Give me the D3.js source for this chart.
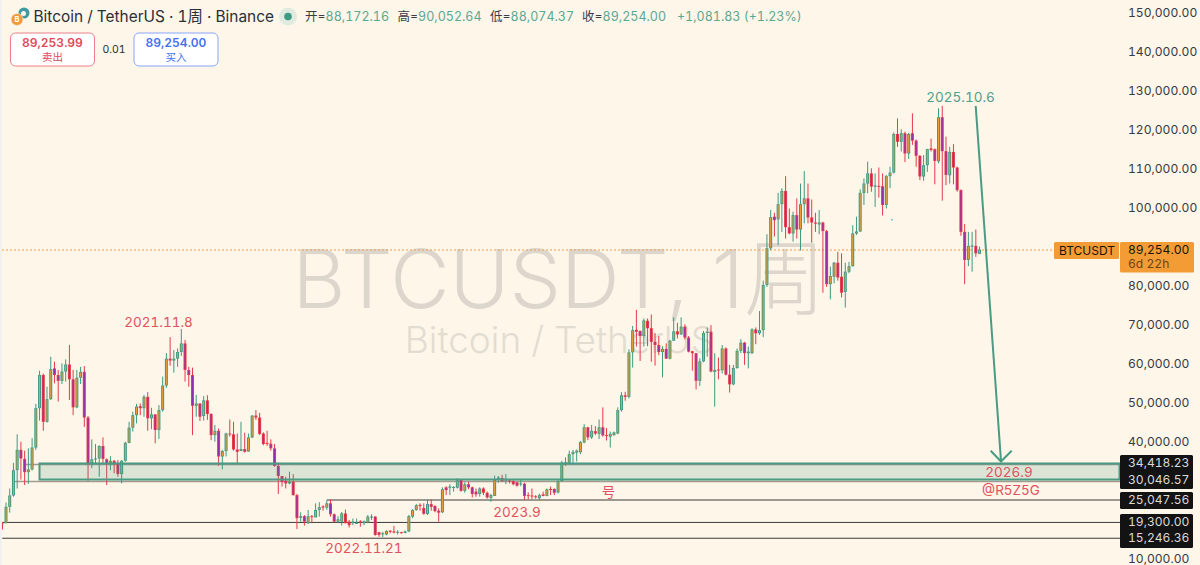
<!DOCTYPE html>
<html>
<head>
<meta charset="utf-8">
<script src="https://d3js.org/d3.v7.min.js"></script>
<style>
html, body { margin: 0; padding: 0; background: #fef6e9; overflow: hidden; }
text { font-family: Inter, "Noto Sans CJK SC", sans-serif; font-variant-numeric: tabular-nums; }
</style>
</head>
<body>
<div id="chart"></div>
<script>
///////////////////////////////////////////////////////////////////////////
///////////////////////////////// Data ////////////////////////////////////
///////////////////////////////////////////////////////////////////////////

//Weekly candles, in thousands of USDT
var opens = [
	19.3,19.1,23.3,26.2,32.7,37.9,35.6,32.2,32.9,38.5,
	48.6,57.1,45.1,50.9,58.8,57.1,55.6,58.0,59.8,56.0,
	48.8,56.4,57.9,46.2,34.4,35.5,35.7,38.9,35.5,34.6,
	35.1,34.4,31.7,35.1,39.7,43.6,46.8,49.1,48.6,51.5,
	46.0,47.0,43.0,48.1,54.4,61.3,60.8,61.3,63.0,65.2,
	58.4,57.1,49.2,49.8,46.6,50.6,47.1,41.7,42.8,36.2,
	37.6,42.1,41.9,38.0,37.6,38.1,37.5,41.1,46.7,46.2,
	42.1,39.7,39.5,38.3,33.8,31.2,30.0,29.3,29.7,26.3,
	20.5,20.9,19.1,20.9,20.6,22.5,23.4,23.1,24.2,21.4,
	19.5,19.5,21.6,19.5,19.1,19.1,19.6,19.1,19.3,20.6,
	20.8,16.8,16.3,16.2,17.2,17.0,16.7,16.8,16.6,17.0,
	20.8,22.5,23.8,23.0,21.5,24.0,23.5,22.3,21.9,28.3,
	28.2,28.2,28.2,30.2,27.4,29.1,28.3,27.2,26.6,28.0,
	26.9,25.6,26.1,30.5,30.7,30.0,30.1,29.9,29.6,29.1,
	29.2,26.3,26.2,26.0,25.5,26.5,26.1,27.9,27.9,27.0,
	29.9,34.4,34.6,36.8,37.2,37.3,39.8,43.7,41.1,42.7,
	42.0,43.7,41.7,41.3,41.7,42.1,48.1,51.9,51.5,62.9,
	68.7,68.4,67.1,71.0,69.1,65.6,64.8,63.0,63.8,61.3,
	65.9,68.3,67.5,69.5,66.7,63.2,62.7,55.6,60.6,67.9,
	68.2,57.9,58.5,58.3,63.9,57.2,54.7,58.9,63.3,65.4,
	62.7,62.7,68.8,67.8,68.6,80.2,89.6,97.7,97.0,100.9,
	104.3,95.0,93.4,98.1,94.4,100.9,102.4,97.5,96.2,95.7,
	96.2,94.0,80.4,82.3,85.9,82.3,78.4,83.6,85.0,93.4,
	93.9,103.8,106.2,108.8,105.4,105.6,105.5,100.7,108.1,109.0,
	118.9,116.9,119.1,113.9,119.1,117.2,113.3,108.0,110.9,115.2,
	115.0,111.9,123.2,114.5,108.3,114.3,110.3,104.5,93.8,86.6,
	90.0,90.2,88.172];
var highs = [
	19.3,24.4,28.0,34.6,41.9,40.0,37.7,38.3,40.9,49.7,
	58.2,57.5,54.1,61.8,60.5,58.4,60.1,61.1,64.8,58.4,
	58.4,59.2,59.4,46.6,40.6,39.4,39.1,41.1,35.7,36.3,
	35.3,35.3,35.3,40.0,45.1,47.7,49.7,49.8,52.0,52.7,
	48.7,47.1,49.4,56.7,62.7,66.8,63.5,63.9,68.9,66.1,
	59.2,59.0,52.0,49.8,51.7,51.9,47.3,44.3,43.4,37.9,
	42.3,45.7,45.1,42.1,45.1,42.3,42.1,46.8,48.1,47.4,
	42.4,42.8,40.6,39.4,34.3,31.2,31.0,32.3,31.7,26.6,
	21.9,21.2,22.5,21.2,24.2,24.5,23.7,25.0,25.2,21.6,
	20.9,22.0,22.6,19.9,20.3,20.3,19.9,19.8,21.2,21.4,
	20.9,16.9,16.9,17.3,17.3,18.4,17.3,16.9,17.2,21.2,
	22.7,24.0,24.2,24.2,25.2,25.2,23.7,22.9,28.3,28.6,
	29.1,28.6,30.6,30.3,29.6,29.7,28.5,28.0,28.3,28.3,
	27.2,26.6,31.3,31.2,31.5,31.7,30.4,30.4,29.7,30.4,
	29.5,27.0,28.0,26.3,26.7,27.2,28.0,28.5,28.0,30.3,
	35.1,36.0,37.7,37.9,38.0,40.2,44.5,43.8,44.3,44.0,
	45.7,48.8,43.5,42.6,42.6,48.8,52.7,52.8,63.7,69.7,
	73.8,68.5,71.6,71.6,72.6,67.8,67.1,64.5,65.2,66.1,
	71.9,70.5,71.9,70.1,67.1,63.3,62.7,61.4,68.4,69.3,
	69.9,62.7,61.6,64.8,64.2,59.7,59.7,63.9,66.3,65.6,
	64.4,69.1,69.3,73.5,81.3,93.2,99.4,98.7,103.8,105.0,
	108.1,99.8,99.0,102.4,106.2,109.4,106.2,102.1,98.7,99.4,
	96.4,94.3,84.9,86.1,88.7,88.3,85.9,86.1,95.5,97.7,
	104.7,107.5,111.8,110.1,108.8,110.3,108.8,108.4,110.5,119.3,
	122.9,120.1,119.5,119.2,124.2,117.5,113.5,113.5,115.1,117.7,
	115.2,125.5,126.1,118.2,115.6,116.3,110.5,104.7,95.8,93.8,
	93.8,94.4,90.052];
var lows = [
	17.5,19.1,21.8,25.9,28.0,30.3,28.9,29.2,32.6,37.9,
	45.4,42.8,44.9,50.7,55.0,50.3,54.8,55.4,50.7,46.8,
	48.6,54.8,43.8,30.0,33.2,34.3,31.0,34.4,28.9,32.7,
	31.9,31.0,29.3,34.9,39.6,42.6,44.7,46.8,46.4,42.8,
	43.2,39.6,40.7,47.7,53.8,59.5,57.7,59.2,62.0,55.4,
	54.1,41.7,46.4,45.3,45.4,45.6,40.4,40.0,33.8,32.9,
	36.2,41.3,37.7,34.3,37.6,37.2,37.4,40.9,45.6,41.7,
	39.1,38.9,37.7,33.6,26.6,28.5,28.0,29.1,26.2,17.6,
	19.5,18.5,18.9,19.1,20.6,20.8,22.3,22.5,20.8,19.3,
	19.2,18.5,19.1,18.0,18.6,18.9,18.2,18.6,19.1,19.9,
	15.9,15.6,15.5,16.0,16.5,16.5,16.2,16.4,16.5,16.8,
	20.4,22.3,22.3,21.3,21.2,22.3,21.9,19.5,21.7,26.3,
	26.3,27.2,28.0,27.2,26.9,27.8,25.7,25.9,25.9,26.3,
	25.4,24.6,26.1,29.5,29.7,29.1,29.3,28.8,28.5,28.6,
	25.0,25.2,25.3,25.4,25.0,26.0,26.0,26.3,26.3,26.7,
	29.7,33.8,34.4,34.6,34.9,36.8,39.6,40.4,40.7,41.7,
	40.7,41.3,40.3,38.5,41.5,41.9,47.7,50.5,51.1,59.0,
	64.4,60.7,64.4,64.5,60.5,59.5,62.2,56.5,61.2,61.1,
	65.9,66.5,67.4,66.2,62.9,58.2,53.4,54.3,60.4,61.8,
	57.8,49.0,56.0,57.5,57.0,52.6,54.5,58.7,62.7,59.7,
	58.8,62.5,65.0,67.4,66.8,79.7,89.1,92.6,90.4,93.8,
	92.1,93.2,91.3,92.1,89.0,96.0,96.0,91.0,93.8,93.2,
	78.2,79.7,76.5,80.6,81.3,77.0,74.4,83.2,84.9,93.0,
	93.8,100.7,103.7,104.1,100.2,102.6,98.0,99.8,105.0,108.8,
	115.6,114.4,111.7,112.5,116.1,110.5,107.1,106.9,109.2,114.4,
	106.0,111.4,101.8,105.8,106.2,106.0,104.1,92.8,80.4,85.0,
	83.6,87.4,88.074];
var closes = [
	19.0,23.3,26.2,32.7,37.9,35.7,32.2,32.9,38.5,48.6,
	57.1,45.1,50.9,58.6,57.1,55.6,58.0,59.8,56.0,48.8,
	56.4,57.9,46.2,34.4,35.5,35.7,38.9,35.6,34.4,35.1,
	34.3,31.7,35.1,39.7,43.6,46.8,49.0,48.6,51.5,46.0,
	47.0,43.0,48.1,54.4,61.3,60.8,61.3,63.0,65.2,58.4,
	57.1,49.2,49.8,46.4,50.6,47.1,41.7,42.8,36.2,37.6,
	42.1,41.9,38.0,37.4,38.1,37.4,41.1,46.7,46.2,42.0,
	39.4,39.4,38.3,33.8,31.2,29.7,29.3,29.7,26.3,20.4,
	20.9,19.5,20.9,20.8,22.5,23.2,23.1,24.2,21.4,19.5,
	20.1,21.6,19.1,18.6,19.5,19.2,19.3,19.6,20.8,20.8,
	16.1,16.1,16.5,17.1,16.9,16.7,16.9,16.7,17.0,20.9,
	22.5,23.7,23.5,21.5,24.0,23.3,22.2,21.8,27.8,27.6,
	28.5,28.4,30.1,27.4,29.1,28.3,26.6,26.5,28.0,26.9,
	25.7,26.3,30.2,30.8,29.9,30.4,29.9,29.1,28.7,29.3,
	26.1,26.1,26.0,25.8,26.3,26.1,27.8,27.6,26.9,29.9,
	34.6,34.7,36.8,37.4,37.7,39.9,43.7,41.1,42.8,42.1,
	43.7,41.6,41.6,42.0,42.4,48.1,51.9,51.5,62.9,68.6,
	68.2,67.1,71.1,69.1,65.6,64.8,63.0,63.8,61.3,65.9,
	68.3,67.5,69.5,66.7,63.1,62.7,55.6,60.6,67.9,68.2,
	58.0,58.4,58.3,63.9,57.2,54.7,58.9,63.3,65.4,62.7,
	63.1,68.8,67.8,68.6,80.2,89.6,97.6,96.8,100.9,104.3,
	95.0,93.4,98.1,94.4,100.9,102.4,97.5,96.2,95.9,96.2,
	94.0,80.4,82.5,85.9,82.1,78.2,83.6,85.0,93.4,93.9,
	103.8,106.2,108.8,105.4,105.7,105.5,100.7,108.1,109.0,118.9,
	116.9,119.1,113.9,118.9,117.2,113.3,108.0,110.9,115.0,114.8,
	112.0,123.2,114.5,108.4,114.3,110.3,104.5,93.8,86.6,90.2,
	90.3,88.3,89.254];

var axisTicks = [150,140,130,120,110,100,80,70,60,50,40,10];
var levelValues = [25.04756,19.3,15.24636];
var levelStarts = [87,0,0];	//first candle each level line is drawn from
var zoneValues = [34.41823,30.04657];
var lastPrice = 89.254;
var blackLabels = [34.41823,30.04657,25.04756,19.3,15.24636];

///////////////////////////////////////////////////////////////////////////
//////////////////////////////// Set-up ///////////////////////////////////
///////////////////////////////////////////////////////////////////////////

var width = 1200, height = 565;
var green = "#3e9a83", red = "#e53a4b", orange = "#f39c36", purple = "#8e2fb4",
	noteRed = "#e2515f", noteGreen = "#4f9f8a";

var svg = d3.select("#chart").append("svg")
	.attr("width", width)
	.attr("height", height)
	.style("display", "block");

var x = d3.scaleLinear().domain([0, 262]).range([2.25, 979.56]);
var y = d3.scaleLinear().domain([10, 150]).range([558.7, 12.7]);
var money = d3.format(",.2f");

svg.append("rect").attr("width", width).attr("height", height).attr("fill", "#fef6e9");
svg.append("rect").attr("width", 2).attr("height", height).attr("fill", "#f1f1f1");

var plot = svg.append("g");

///////////////////////////////////////////////////////////////////////////
////////////////////////////// Watermark //////////////////////////////////
///////////////////////////////////////////////////////////////////////////

plot.append("text")
	.attr("x", 559)
	.attr("y", 308)
	.attr("text-anchor", "middle")
	.attr("fill", "#ddd6cc")
	.style("font-size", "81.5px")
	.style("font-weight", 300)
	.style("font-variant-numeric", "normal")
	.text("BTCUSDT, 1周");
plot.append("text")
	.attr("x", 559.5)
	.attr("y", 353)
	.attr("text-anchor", "middle")
	.attr("fill", "#e3dcd1")
	.style("font-size", "37px")
	.style("font-weight", 300)
	.text("Bitcoin / TetherUS");

///////////////////////////////////////////////////////////////////////////
//////////////////////////// Horizontal lines /////////////////////////////
///////////////////////////////////////////////////////////////////////////

//Grey rays under the zone
plot.selectAll(".zoneRay")
	.data(zoneValues)
	.join("line")
	.attr("class", "zoneRay")
	.attr("x1", function(d, i) { return i === 0 ? 25 : 15; })
	.attr("x2", 1120)
	.attr("y1", function(d) { return y(d) + 1; })
	.attr("y2", function(d) { return y(d) + 1; })
	.style("stroke", "#a39a8d")
	.style("stroke-width", 1.6);

plot.selectAll(".level")
	.data(levelValues)
	.join("line")
	.attr("class", "level")
	.attr("x1", function(d, i) { return x(levelStarts[i]); })
	.attr("x2", 1120)
	.attr("y1", function(d) { return y(d); })
	.attr("y2", function(d) { return y(d); })
	.style("stroke", "#3a3a3a")
	.style("stroke-width", 1);

//Dotted line at the last price
plot.append("line")
	.attr("x1", 2)
	.attr("x2", 1054)
	.attr("y1", 250)
	.attr("y2", 250)
	.style("stroke", orange)
	.style("stroke-width", 1)
	.style("stroke-dasharray", "2 2");

///////////////////////////////////////////////////////////////////////////
/////////////////////////////// Candles ///////////////////////////////////
///////////////////////////////////////////////////////////////////////////

var candles = plot.selectAll(".candle")
	.data(d3.range(opens.length))
	.join("g")
	.attr("class", "candle");

candles.append("rect")
	.attr("x", function(i) { return Math.max(2, x(i) - 0.5); })
	.attr("width", 1)
	.attr("y", function(i) { return y(highs[i]); })
	.attr("height", function(i) { return y(lows[i]) - y(highs[i]); })
	.attr("fill", function(i) { return closes[i] >= opens[i] ? green : red; });
candles.append("rect")
	.attr("x", function(i) { return Math.max(2, x(i) - 1.5); })
	.attr("width", function(i) { return x(i) + 1.5 - Math.max(2, x(i) - 1.5); })
	.attr("y", function(i) { return y(Math.max(opens[i], closes[i])); })
	.attr("height", function(i) { return Math.max(1, Math.abs(y(opens[i]) - y(closes[i]))); })
	.attr("fill", function(i) { return closes[i] >= opens[i] ? green : red; });
candles.append("rect")
	.attr("x", function(i) { return x(i) - 0.5; })
	.attr("width", 1)
	.attr("y", function(i) { return y(Math.max(opens[i], closes[i])) + 0.7; })
	.attr("height", function(i) { return Math.max(0, Math.abs(y(opens[i]) - y(closes[i])) - 1.4); })
	.attr("fill", function(i) { return closes[i] >= opens[i] ? orange : purple; });

//Small stray dot from the drawing layer
plot.append("circle").attr("cx", x(238.5)).attr("cy", y(96.9)).attr("r", 1).attr("fill", "#74c6d6");

///////////////////////////////////////////////////////////////////////////
///////////////////////////////// Zone ////////////////////////////////////
///////////////////////////////////////////////////////////////////////////

plot.append("rect")
	.attr("x", 39.5)
	.attr("width", 1080)
	.attr("y", y(zoneValues[0]))
	.attr("height", y(zoneValues[1]) - y(zoneValues[0]) - 1)
	.attr("fill", "rgba(60,150,120,0.18)")
	.style("stroke", "#4a9a84")
	.style("stroke-width", 2);

///////////////////////////////////////////////////////////////////////////
///////////////////////////// Annotations /////////////////////////////////
///////////////////////////////////////////////////////////////////////////

var noteText = ["2021.11.8", "2022.11.21", "2023.9", "号", "2026.9", "@R5Z5G", "2025.10.6"];
var noteX = [158.5, 364, 517, 608.5, 1009, 1011, 960.5];
var noteY = [322, 548, 512, 492, 472, 490, 97];
var noteColor = [noteRed, noteRed, noteRed, noteRed, noteRed, noteRed, noteGreen];

plot.selectAll(".note")
	.data(noteText)
	.join("text")
	.attr("class", "note")
	.attr("x", function(d, i) { return noteX[i]; })
	.attr("y", function(d, i) { return noteY[i]; })
	.attr("dy", ".35em")
	.attr("text-anchor", "middle")
	.attr("fill", function(d, i) { return noteColor[i]; })
	.style("font-size", "13.5px")
	.text(function(d) { return d; });

//The arrow down to the zone
var arrow = plot.append("g")
	.style("stroke", "#4a9a84")
	.style("stroke-width", 2)
	.style("fill", "none");
arrow.append("line").attr("x1", 975.7).attr("y1", 106).attr("x2", 1001).attr("y2", 461);
arrow.append("path").attr("d", "M990.7,450.7L1001,461.5L1011.7,450.7");

///////////////////////////////////////////////////////////////////////////
///////////////////////////////// Axis ////////////////////////////////////
///////////////////////////////////////////////////////////////////////////

var axis = svg.append("g")
	.attr("transform", "translate(1120,0)")
	.call(d3.axisRight(y)
		.tickValues(axisTicks)
		.tickSize(0)
		.tickPadding(8)
		.tickFormat(function(d) { return money(d * 1000); }));
axis.select(".domain").remove();
axis.selectAll("text")
	.attr("fill", "#363a45")
	.attr("dy", ".3em")
	.style("font-family", "Inter")
	.style("font-size", "12.1px");

//Black price labels
var blackBoxes = [[455, 34], [492, 17], [514, 34]];
svg.selectAll(".blackBox")
	.data(blackBoxes)
	.join("rect")
	.attr("class", "blackBox")
	.attr("x", 1120)
	.attr("width", 73)
	.attr("y", function(d) { return d[0]; })
	.attr("height", function(d) { return d[1]; })
	.attr("rx", 1.5)
	.attr("fill", "#131313");
svg.selectAll(".blackLabel")
	.data(blackLabels)
	.join("text")
	.attr("class", "blackLabel")
	.attr("x", 1128)
	.attr("y", function(d) { return y(d) - 0.5; })
	.attr("dy", ".35em")
	.attr("fill", "#d9d9d9")
	.style("font-size", "12.1px")
	.text(function(d) { return money(d * 1000); });

//Last price labels
svg.append("rect").attr("x", 1054).attr("y", 242).attr("width", 65).attr("height", 17).attr("rx", 1.5).attr("fill", orange);
svg.append("rect").attr("x", 1120).attr("y", 242).attr("width", 74).attr("height", 30.5).attr("rx", 1.5).attr("fill", orange);
svg.append("text").attr("x", 1059).attr("y", 250.5).attr("dy", ".35em").attr("fill", "#1c1408").style("font-size", "12px")
	.text("BTCUSDT");
svg.append("text").attr("x", 1128).attr("y", 250).attr("dy", ".35em").attr("fill", "#1c1408").style("font-size", "12.1px")
	.text(money(lastPrice * 1000));
svg.append("text").attr("x", 1128).attr("y", 264).attr("dy", ".35em").attr("fill", "#6b4515").style("font-size", "12.1px")
	.text("6d 22h");

///////////////////////////////////////////////////////////////////////////
//////////////////////////////// Header ///////////////////////////////////
///////////////////////////////////////////////////////////////////////////

var header = svg.append("g");

//Symbol icon
header.append("circle").attr("cx", 24).attr("cy", 13).attr("r", 5.5).attr("fill", "#3e9aa3");
header.append("circle").attr("cx", 23.5).attr("cy", 13.5).attr("r", 2.5).attr("fill", "#fef6e9");
header.append("circle").attr("cx", 17).attr("cy", 19.5).attr("r", 6).attr("fill", "#f09a3a")
	.style("stroke", "#fef6e9").style("stroke-width", 0.6);
header.append("text").attr("x", 17).attr("y", 19.7).attr("dy", ".35em").attr("text-anchor", "middle")
	.attr("fill", "#fff").style("font-size", "7.5px").style("font-weight", 700).text("B");

header.append("text").attr("x", 33.5).attr("y", 17).attr("dy", ".35em").attr("fill", "#2a2e39")
	.style("font-size", "15.4px").text("Bitcoin / TetherUS · 1周 · Binance");

header.append("circle").attr("cx", 288).attr("cy", 16.5).attr("r", 9).attr("fill", "#e0eadf");
header.append("circle").attr("cx", 288).attr("cy", 16.5).attr("r", 3.8).attr("fill", "#3f9a84");

var ohlcLabels = ["开=", "高=", "低=", "收="];
var ohlcValues = ["88,172.16", "90,052.64", "88,074.37", "89,254.00"];
var ohlcX = [305, 397.5, 490, 582];

header.selectAll(".ohlc")
	.data(ohlcLabels)
	.join("text")
	.attr("class", "ohlc")
	.attr("x", function(d, i) { return ohlcX[i]; })
	.attr("y", 17)
	.attr("dy", ".35em")
	.style("font-size", "12.5px")
	.each(function(d, i) {
		d3.select(this).append("tspan").attr("fill", "#3a3d46").text(d);
		d3.select(this).append("tspan").attr("fill", "#5aa892").text(ohlcValues[i]);
	});
header.append("text").attr("x", 677).attr("y", 17).attr("dy", ".35em").attr("fill", "#5aa892")
	.style("font-size", "12.5px").text("+1,081.83 (+1.23%)");

//Sell and buy buttons
var buttonX = [10.5, 134];
var buttonPrice = ["89,253.99", "89,254.00"];
var buttonWord = ["卖出", "买入"];
var buttonStroke = ["#ec7f88", "#89a6fb"];
var buttonText = ["#e2485a", "#4470f0"];

var buttons = header.selectAll(".button")
	.data(buttonPrice)
	.join("g")
	.attr("class", "button");
buttons.append("rect")
	.attr("x", function(d, i) { return buttonX[i]; })
	.attr("y", 33)
	.attr("width", 84)
	.attr("height", 33)
	.attr("rx", 5)
	.attr("fill", "#fff")
	.style("stroke", function(d, i) { return buttonStroke[i]; });
buttons.append("text")
	.attr("x", function(d, i) { return buttonX[i] + 42; })
	.attr("y", 43)
	.attr("dy", ".35em")
	.attr("text-anchor", "middle")
	.attr("fill", function(d, i) { return buttonText[i]; })
	.style("font-size", "12px")
	.style("font-weight", 600)
	.text(function(d) { return d; });
buttons.append("text")
	.attr("x", function(d, i) { return buttonX[i] + 42; })
	.attr("y", 57)
	.attr("dy", ".35em")
	.attr("text-anchor", "middle")
	.attr("fill", function(d, i) { return buttonText[i]; })
	.style("font-size", "10.5px")
	.text(function(d, i) { return buttonWord[i]; });
header.append("text").attr("x", 114).attr("y", 49.5).attr("dy", ".35em").attr("text-anchor", "middle")
	.attr("fill", "#2a2e39").style("font-size", "10.5px").text("0.01");
</script>
</body>
</html>
